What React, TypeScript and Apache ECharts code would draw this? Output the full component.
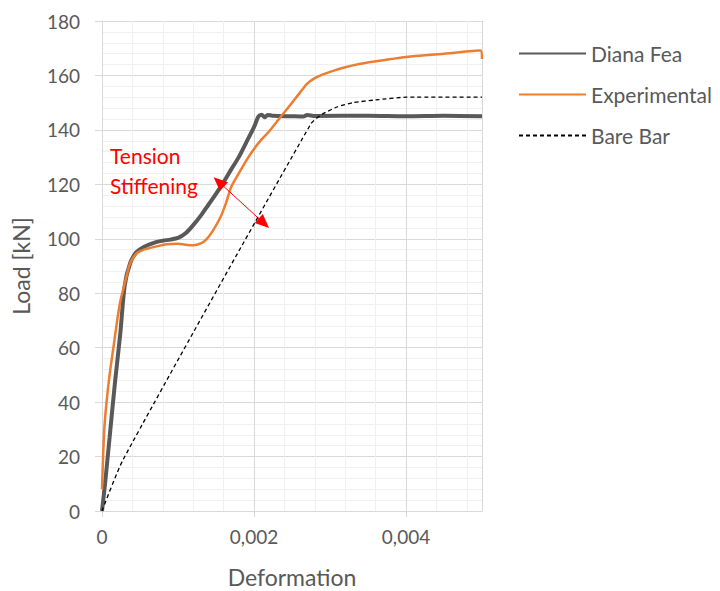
import React, { useEffect, useRef } from "react";
import * as echarts from "echarts";

const dianaFea: [number, number][] = [
  [0, 0], [0.00004, 10], [0.0001, 27], [0.00017, 47], [0.00024, 65], [0.0003, 83],
  [0.00037, 91], [0.00045, 95], [0.00055, 97], [0.0007, 98.7], [0.0008, 99.3],
  [0.0009, 99.7], [0.001, 100.3], [0.0011, 102], [0.0012, 105], [0.0013, 108.5],
  [0.0014, 112.5], [0.0015, 116.5], [0.0016, 120.8], [0.0017, 125.5], [0.0018, 130],
  [0.0019, 135.5], [0.002, 141], [0.00206, 145], [0.0021, 145.6], [0.00214, 144.6],
  [0.00218, 145.5], [0.00224, 145.2], [0.0025, 145], [0.00265, 144.9], [0.0027, 145.5],
  [0.0028, 145.1], [0.0035, 145.2], [0.004, 145], [0.0045, 145.2], [0.005, 145],
];

const experimental: [number, number][] = [
  [0, 8], [0.00003, 30], [0.00006, 40], [0.0001, 50], [0.00015, 60], [0.0002, 70],
  [0.00024, 77], [0.00028, 81.5], [0.00033, 87], [0.00037, 91], [0.00045, 94.5],
  [0.00055, 96], [0.00072, 97.2], [0.00085, 98], [0.001, 98.2], [0.0011, 97.8],
  [0.0012, 97.6], [0.0013, 98.3], [0.00138, 100], [0.00146, 103], [0.00156, 108],
  [0.00163, 113], [0.0017, 119], [0.0018, 124], [0.0019, 128.8], [0.002, 133],
  [0.0021, 136.5], [0.0022, 139.5], [0.0023, 143], [0.0024, 146.5], [0.0025, 150],
  [0.0026, 153.5], [0.0027, 157], [0.0028, 159], [0.0029, 160.3], [0.003, 161.3],
  [0.0032, 163], [0.0034, 164.3], [0.0036, 165.2], [0.0038, 166], [0.004, 166.8],
  [0.0045, 168], [0.00498, 169.2], [0.005, 166],
];

const bareBar: [number, number][] = [
  [0, 0], [0.00028, 19], [0.00275, 142.3], [0.0029, 145.8], [0.0031, 148.5],
  [0.0033, 150], [0.0036, 151], [0.004, 152], [0.005, 152],
];

const seriesNames = ["Diana Fea", "Experimental", "Bare Bar"];
const arrowEnds: [number, number][] = [[0.001537, 120.9], [0.00213, 105.7]];
const annotation = ["Tension", "Stiffening"];

const FONT = "Lato, 'Open Sans', sans-serif";
const TEXT = "#595959";

export default function App() {
  const ref = useRef<HTMLDivElement>(null);
  useEffect(() => {
    if (!ref.current) return;
    const chart = echarts.init(ref.current, null, { renderer: "svg" });
    const minorX = {
      type: "value", min: 0, max: 0.005, interval: 0.0004, position: "bottom",
      axisLabel: { show: false }, axisLine: { show: false }, axisTick: { show: false },
      splitLine: { show: true, lineStyle: { color: "#f0f0f0", width: 1 } },
    };
    const minorY = {
      type: "value", min: 0, max: 180, interval: 4, position: "left",
      axisLabel: { show: false }, axisLine: { show: false }, axisTick: { show: false },
      splitLine: { show: true, lineStyle: { color: "#f0f0f0", width: 1 } },
    };
    chart.setOption({
      animation: false,
      textStyle: { fontFamily: FONT },
      grid: { left: 94, right: 238, top: 13, bottom: 80, containLabel: false, outerBoundsMode: "none" },
      legend: {
        orient: "vertical", left: 505, top: 30, data: seriesNames,
        itemWidth: 67, itemHeight: 14, itemGap: 20,
        itemStyle: { opacity: 0 },
        textStyle: { color: TEXT, fontSize: 21, fontFamily: FONT },
      },
      xAxis: [
        minorX,
        {
          type: "value", min: 0, max: 0.005, interval: 0.002, position: "bottom",
          name: "Deformation", nameLocation: "middle", nameGap: 54,
          nameTextStyle: { color: TEXT, fontSize: 23, fontFamily: FONT },
          axisLine: { show: true, lineStyle: { color: "#d9d9d9", width: 1 } },
          axisTick: { show: true, length: 6, lineStyle: { color: "#d9d9d9" } },
          axisLabel: {
            color: TEXT, fontSize: 19, margin: 16, showMaxLabel: false,
            formatter: (v: number) => (v === 0 ? "0" : v.toFixed(3).replace(".", ",")),
          },
          splitLine: { show: true, lineStyle: { color: "#d9d9d9", width: 1 } },
        },
      ],
      yAxis: [
        minorY,
        {
          type: "value", min: 0, max: 180, interval: 20, position: "left",
          name: "Load [kN]", nameLocation: "middle", nameGap: 70,
          nameTextStyle: { color: TEXT, fontSize: 23, fontFamily: FONT },
          axisLine: { show: true, lineStyle: { color: "#d9d9d9", width: 1 } },
          axisTick: { show: true, length: 7, lineStyle: { color: "#d9d9d9" } },
          axisLabel: { color: TEXT, fontSize: 19, margin: 22 },
          splitLine: { show: true, lineStyle: { color: "#d9d9d9", width: 1 } },
        },
      ],
      series: [
        {
          name: seriesNames[0], type: "line", xAxisIndex: 1, yAxisIndex: 1,
          data: dianaFea, showSymbol: false, symbol: "none", smooth: 0.3,
          lineStyle: { color: "#595959", width: 4 }, itemStyle: { color: "#595959" }, z: 3,
        },
        {
          name: seriesNames[1], type: "line", xAxisIndex: 1, yAxisIndex: 1,
          data: experimental, showSymbol: false, symbol: "none", smooth: 0.3,
          lineStyle: { color: "#ED7D31", width: 2.5 }, itemStyle: { color: "#ED7D31" }, z: 4,
        },
        {
          name: seriesNames[2], type: "line", xAxisIndex: 1, yAxisIndex: 1,
          data: bareBar, showSymbol: false, symbol: "none", smooth: 0.2,
          lineStyle: { color: "#000000", width: 1.3, type: [4, 3] }, itemStyle: { color: "#000000" }, z: 5,
          markLine: {
            silent: true, symbol: ["triangle", "triangle"], symbolSize: [12, 14],
            label: { show: false },
            lineStyle: { color: "#ff0000", width: 1, type: "solid" },
            itemStyle: { color: "#ff0000" },
            data: [[{ coord: arrowEnds[0] }, { coord: arrowEnds[1] }]],
          },
        },
      ],
      graphic: annotation.map((t, i) => ({
        type: "text", x: 102, y: 147 + i * 30, z: 10,
        style: {
          text: t, fill: "#ff0000", fontSize: 21, fontFamily: FONT,
          textAlign: "left", textVerticalAlign: "middle",
        },
      })),
    });
    return () => chart.dispose();
  }, []);
  return <div ref={ref} style={{ width: 712, height: 583 }} />;
}
